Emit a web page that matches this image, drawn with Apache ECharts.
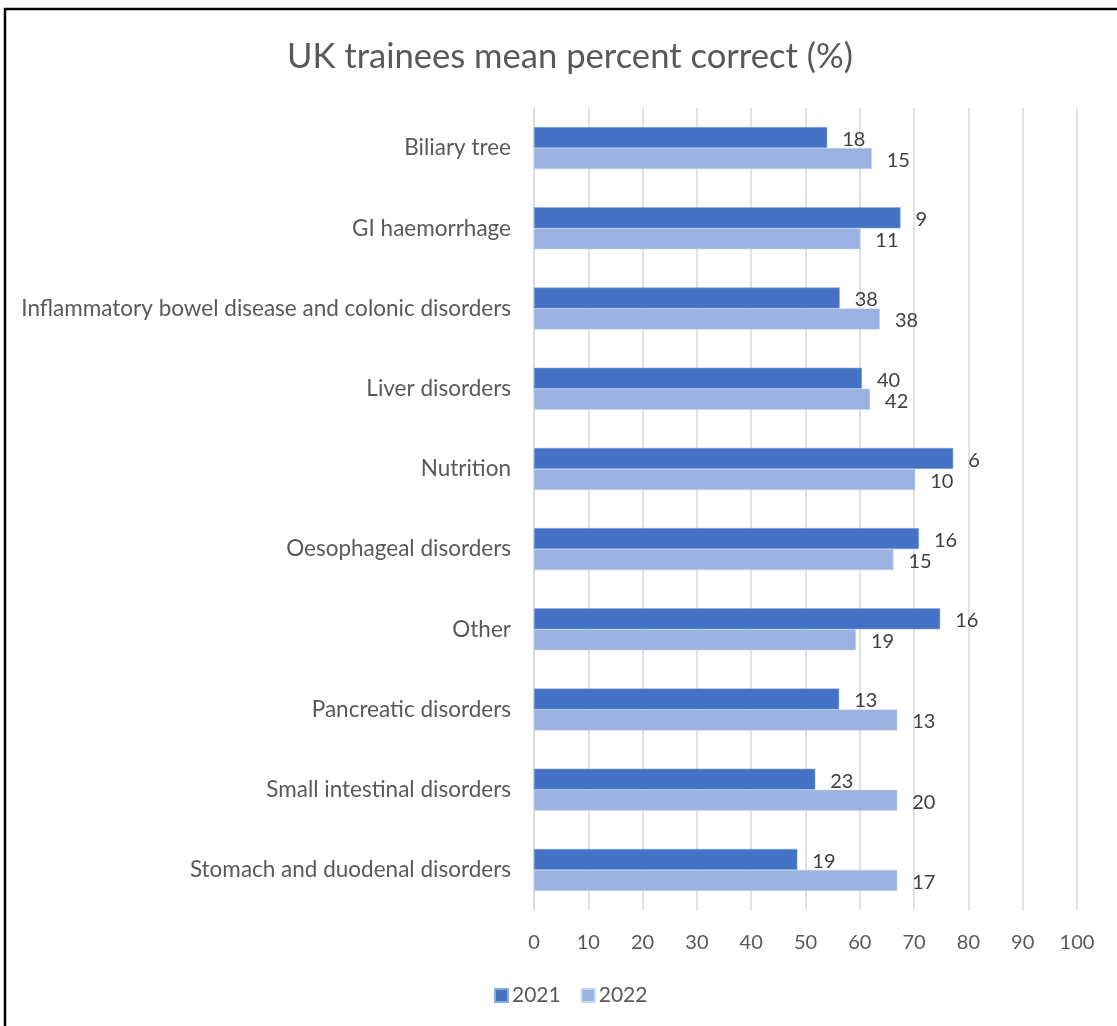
<!DOCTYPE html>
<html>
<head>
<meta charset="utf-8">
<script src="https://cdn.jsdelivr.net/npm/echarts@6/dist/echarts.min.js"></script>
<style>
html,body{margin:0;padding:0;background:#fff;}
#chart{width:1117px;height:1026px;}
</style>
</head>
<body>
<div id="chart"></div>
<script>
const categories = [
  "Biliary tree",
  "GI haemorrhage",
  "Inflammatory bowel disease and colonic disorders",
  "Liver disorders",
  "Nutrition",
  "Oesophageal disorders",
  "Other",
  "Pancreatic disorders",
  "Small intestinal disorders",
  "Stomach and duodenal disorders"
];
const values2021 = [54.0, 67.5, 56.3, 60.4, 77.2, 70.9, 74.8, 56.2, 51.8, 48.5];
const values2022 = [62.2, 60.1, 63.7, 61.9, 70.2, 66.2, 59.3, 66.9, 66.9, 66.9];
const labels2021 = [18, 9, 38, 40, 6, 16, 16, 13, 23, 19];
const labels2022 = [15, 11, 38, 42, 10, 15, 19, 13, 20, 17];
const xTicks = [0, 10, 20, 30, 40, 50, 60, 70, 80, 90, 100];

const FONT = 'Lato';
const chart = echarts.init(document.getElementById('chart'), null, {renderer: 'canvas'});

function mkLabel(arr) {
  return {
    show: true,
    position: 'right',
    distance: 15,
    offset: [0, 2],
    fontFamily: FONT,
    fontSize: 20,
    color: '#404040',
    formatter: p => String(arr[p.dataIndex])
  };
}

chart.setOption({
  backgroundColor: '#ffffff',
  animation: false,
  title: {
    text: 'UK trainees mean percent correct (%)',
    left: 565,
    textAlign: 'center',
    top: 34,
    textStyle: {fontFamily: FONT, fontSize: 34.6, fontWeight: 'normal', color: '#595959'}
  },
  legend: {
    data: ['2021', '2022'],
    left: 494,
    top: 985,
    padding: 0,
    icon: 'rect',
    itemWidth: 13,
    itemHeight: 13,
    itemGap: 20,
    textStyle: {fontFamily: FONT, fontSize: 21, color: '#595959', padding: [0, 0, 0, -1]}
  },
  grid: {left: 534, right: 40, top: 108, bottom: 116, containLabel: false},
  xAxis: {
    type: 'value',
    min: 0,
    max: 100,
    interval: 10,
    axisLine: {show: false},
    axisTick: {show: false},
    axisLabel: {
      fontFamily: FONT, fontSize: 20, color: '#595959', margin: 23,
      formatter: v => xTicks.indexOf(v) >= 0 ? String(v) : ''
    },
    splitLine: {show: true, lineStyle: {color: '#d9d9d9', width: 1.5}}
  },
  yAxis: {
    type: 'category',
    data: categories,
    inverse: true,
    axisLine: {show: true, lineStyle: {color: '#d9d9d9', width: 1.5}},
    axisTick: {show: false},
    axisLabel: {fontFamily: FONT, fontSize: 22.5, color: '#595959', margin: 23}
  },
  series: [
    {
      name: '2021', type: 'bar', data: values2021,
      barWidth: 21, barGap: '0%',
      itemStyle: {color: '#4472C4', borderColor: '#8eaadb', borderWidth: 0.5},
      label: mkLabel(labels2021)
    },
    {
      name: '2022', type: 'bar', data: values2022,
      barWidth: 21, barGap: '0%',
      itemStyle: {color: '#9BB2E0', borderColor: '#c9d6f0', borderWidth: 0.5},
      label: mkLabel(labels2022)
    }
  ],
  graphic: [{
    type: 'rect',
    shape: {x: 5, y: 9, width: 1300, height: 1200},
    style: {fill: 'none', stroke: '#000', lineWidth: 2.5},
    silent: true
  }]
});
</script>
</body>
</html>
